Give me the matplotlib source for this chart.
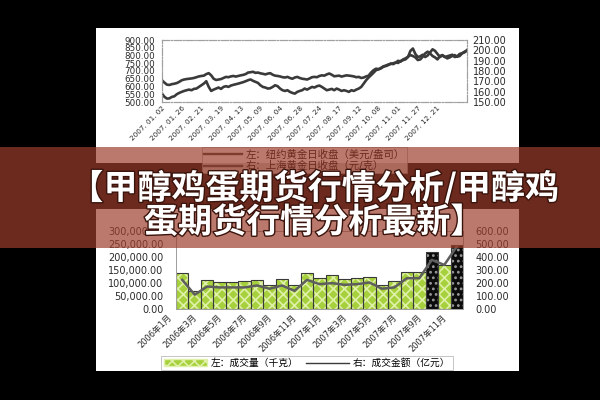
import matplotlib
matplotlib.use('Agg')
import matplotlib.pyplot as plt
from matplotlib.patches import Rectangle, Patch
from matplotlib.lines import Line2D
import matplotlib.patheffects as pe
import matplotlib.transforms as mtransforms
import numpy as np

plt.rcParams['font.family'] = ['DejaVu Sans', 'Noto Sans CJK SC']
plt.rcParams['hatch.linewidth'] = 1.2

# ---------------- data: top chart (2007 daily gold, sampled) ----------------
gold_date_labels = ['2007. 01. 02', '2007. 01. 26', '2007. 02. 21', '2007. 03. 19',
                    '2007. 04. 13', '2007. 05. 09', '2007. 06. 04', '2007. 06. 28',
                    '2007. 07. 24', '2007. 08. 17', '2007. 09. 12', '2007. 10. 08',
                    '2007. 11. 01', '2007. 11. 27', '2007. 12. 21']
ny_gold = [640, 625, 612,
           610, 615, 618, 622,
           630, 640, 645, 648, 650, 652,
           655, 660, 665, 668, 670,
           680, 686, 672,
           650, 642, 645, 648,
           655, 662, 660, 665, 668, 664,
           668, 672, 675, 680, 690, 692,
           695, 688, 690, 685, 682, 678,
           683, 686, 676, 670, 668, 665,
           660, 658, 662, 655, 650, 658,
           662, 655, 650, 648, 645, 652,
           660, 662, 660, 668, 672, 670,
           678, 684, 676, 666, 668, 670,
           664, 668, 672, 670, 668, 665,
           660, 662, 655, 658, 665, 670,
           690, 705, 715, 712, 720, 730,
           735, 742, 745, 750, 755, 752,
           765, 770, 775, 790,
           830, 845, 810, 790,
           795, 805, 790, 800, 820, 840,
           830, 810, 790, 800, 790, 795,
           800, 805, 790, 795, 810, 815, 820, 835]
sh_gold = [158.1, 155.0, 153.3, 153.5, 154.9,
           155.5, 157.5, 158.8, 159.8,
           160.7, 161.4, 162.0, 161.4, 162.7, 163.0,
           164.6, 166.2, 167.8, 170.1,
           164.6, 160.7, 162.0,
           163.0, 164.0, 162.7, 164.6, 165.3,
           164.6, 165.9, 166.6, 167.2, 167.8, 168.5,
           169.2, 170.1, 171.1, 171.8, 170.5, 169.5,
           168.5, 166.2, 164.6, 164.0, 163.0, 163.3,
           164.6, 166.2, 165.3, 163.0, 161.4, 160.7,
           161.4, 159.8, 158.8, 158.1, 159.8, 160.7,
           161.4, 163.0, 162.0, 163.3, 164.6, 164.0,
           165.3, 165.9, 164.6, 163.0, 161.4, 162.0,
           162.7, 161.4, 163.0, 162.0, 160.7, 161.4,
           160.7, 159.8, 161.4, 160.7, 162.0, 163.0,
           164.6, 167.8, 171.1, 173.7, 176.0, 178.3,
           180.8, 181.5, 182.5, 184.1, 184.8, 185.7,
           187.3, 186.6, 188.0, 189.9, 189.0, 191.2,
           192.2, 193.8, 195.4, 194.5, 193.2, 190.6,
           191.2, 193.8, 197.0, 198.7, 197.0, 194.5,
           193.2, 191.2, 194.5, 195.4, 193.8, 192.2,
           193.2, 194.5, 195.4, 193.8, 194.5, 197.0, 198.7, 199.6]
top_legend_labels = ['左：纽约黄金日收盘（美元/盎司）', '右：上海黄金日收盘（元/克）']

# ---------------- data: bottom chart (monthly volume / amount) ----------------
months = ['2006年1月', '2006年2月', '2006年3月', '2006年4月', '2006年5月', '2006年6月',
          '2006年7月', '2006年8月', '2006年9月', '2006年10月', '2006年11月', '2006年12月',
          '2007年1月', '2007年2月', '2007年3月', '2007年4月', '2007年5月', '2007年6月',
          '2007年7月', '2007年8月', '2007年9月', '2007年10月', '2007年11月']
volume_kg = [140000, 70000, 112000, 103000, 102000, 106000, 112000, 91000, 116000, 93000,
             140000, 119000, 129000, 115000, 119000, 122000, 91000, 106000, 144000, 144000,
             220000, 170000, 246000]
amount_yi = [224, 110, 173, 166, 166, 166, 181, 156, 181, 140, 224, 191, 199, 186, 191,
             204, 156, 166, 237, 237, 378, 339, 480]
dark_months = ['2007年9月', '2007年11月']
bottom_legend_labels = ['左：成交量（千克）', '右：成交金额（亿元）']

banner_lines = ['【甲醇鸡蛋期货行情分析/甲醇鸡', '蛋期货行情分析最新】']

W, H = 600.0, 400.0
def fx(x):
    return x / W
def fy(y):
    return 1 - y / H

fig = plt.figure(figsize=(6, 4), dpi=100, facecolor='black')

# white panels
fig.patches.append(Rectangle((fx(96), fy(163)), 423 / W, 135 / H, transform=fig.transFigure,
                             facecolor='white', edgecolor='none', zorder=-5))
fig.patches.append(Rectangle((fx(96), fy(371)), 423 / W, 162 / H, transform=fig.transFigure,
                             facecolor='white', edgecolor='none', zorder=-5))

lab_col = '#2a2a2a'

# ---------------- top chart ----------------
ax1 = fig.add_axes([fx(162), fy(102), 305 / W, 62 / H])
ax1.set_facecolor('white')
xi = np.arange(len(ny_gold))
ax1.plot(xi, ny_gold, color='#3a3a3a', lw=1.9, solid_joinstyle='round')
ax1.set_xlim(0, len(ny_gold) - 1)
ax1.set_ylim(500, 900)
ax1.set_yticks(np.arange(500, 901, 50))
ax1.set_yticklabels(['%.2f' % v for v in np.arange(500, 901, 50)])
tick_idx = np.arange(0, len(ny_gold), 8)[:len(gold_date_labels)]
ax1.set_xticks(tick_idx)
ax1.set_xticklabels(gold_date_labels, rotation=45, ha='right', va='top',
                    rotation_mode='anchor', fontsize=5.2, color=lab_col)
ax1.tick_params(axis='y', length=0, labelsize=6.3, pad=5, colors=lab_col)
ax1.tick_params(axis='x', length=0, pad=2)

ax1r = ax1.twinx()
ax1r.plot(xi, sh_gold, color='#3a3a3a', lw=1.9, solid_joinstyle='round')
ax1r.set_ylim(150, 210)
ax1r.set_yticks(np.arange(150, 211, 10))
ax1r.set_yticklabels(['%.2f' % v for v in np.arange(150, 211, 10)])
ax1r.tick_params(axis='y', length=0, labelsize=7, pad=4, colors=lab_col)
for a in (ax1, ax1r):
    for s in a.spines.values():
        s.set_linestyle('-.')
        s.set_color('#a0a0a0')
        s.set_linewidth(0.8)

leg1 = fig.legend([Line2D([], [], color='#3a3a3a', lw=1.7), Line2D([], [], color='#3a3a3a', lw=1.7)],
                  top_legend_labels, loc='upper left', bbox_to_anchor=(fx(202), fy(147)),
                  bbox_transform=fig.transFigure, fontsize=7.5, frameon=True, fancybox=False,
                  edgecolor='#999999', handlelength=3.6, handletextpad=0.4, borderpad=0.2,
                  labelspacing=0.15, borderaxespad=0)
leg1.get_frame().set_linewidth(0.6)
leg1.set_zorder(2)

# ---------------- bottom chart ----------------
ax2 = fig.add_axes([fx(176), fy(309), 287 / W, 78 / H])
ax2.set_facecolor('white')
xb = np.arange(len(months))
is_dark = [m in dark_months for m in months]
bars = ax2.bar(xb, volume_kg, width=1.0, linewidth=0)
for p, d in zip(bars, is_dark):
    if d:
        p.set_facecolor('#0c0c0c')
        p.set_edgecolor('#9a9a9a')
        p.set_hatch('...')
    else:
        p.set_facecolor('#a6d13c')
        p.set_edgecolor('#dff0a8')
        p.set_hatch('xxx')
ax2.bar(xb, volume_kg, width=1.0, fill=False, edgecolor='#3a3a3a', linewidth=0.8)
ax2.set_xlim(-0.5, len(months) - 0.5)
ax2.set_ylim(0, 300000)
ax2.set_yticks(np.arange(0, 300001, 50000))
ax2.set_yticklabels(['{:,.2f}'.format(v) for v in np.arange(0, 300001, 50000)])
ax2.tick_params(axis='y', length=0, labelsize=7, pad=9, colors=lab_col)
ax2.set_xticks(xb[::2])
ax2.set_xticklabels(months[::2], rotation=45, ha='right', va='top', rotation_mode='anchor',
                    fontsize=6, color=lab_col)
ax2.tick_params(axis='x', length=0, pad=3)
shift = mtransforms.ScaledTranslation(-15 / 100, 0, fig.dpi_scale_trans)
for lab in ax2.get_xticklabels():
    lab.set_transform(lab.get_transform() + shift)

ax2r = ax2.twinx()
ax2r.plot(xb, amount_yi, color='#5e5e5e', lw=1.8)
ax2r.set_ylim(0, 600)
ax2r.set_yticks(np.arange(0, 601, 100))
ax2r.set_yticklabels(['%.2f' % v for v in np.arange(0, 601, 100)])
ax2r.tick_params(axis='y', length=0, labelsize=7, pad=9, colors=lab_col)
for a in (ax2, ax2r):
    for s in a.spines.values():
        s.set_color('#a0a0a0')
        s.set_linewidth(0.7)

leg2 = fig.legend([Patch(facecolor='#a6d13c', edgecolor='#dff0a8', hatch='xxx'),
                   Line2D([], [], color='#3a3a3a', lw=1.0)],
                  bottom_legend_labels, loc='center', bbox_to_anchor=(fx(307), fy(363)),
                  bbox_transform=fig.transFigure, ncol=2, fontsize=7, frameon=True, fancybox=False,
                  edgecolor='#aaaaaa', handlelength=4.4, handleheight=0.7, handletextpad=0.4,
                  columnspacing=0.8, borderpad=0.25, borderaxespad=0)
leg2.get_frame().set_linewidth(0.6)

# ---------------- banner overlay ----------------
fig.patches.append(Rectangle((0, fy(248)), 1, 101 / H, transform=fig.transFigure,
                             facecolor='#9d3d2b', edgecolor='none', alpha=0.69, zorder=10))
for txt, yc in zip(banner_lines, (188, 222)):
    fig.text(fx(314), fy(yc), txt, fontsize=24.5, color='white', weight='heavy',
             family=['Noto Sans CJK SC', 'DejaVu Sans'], ha='center', va='center', zorder=11,
             path_effects=[pe.withStroke(linewidth=2, foreground='#3a140c')])

fig.savefig('out.png', dpi=100, facecolor='black')
